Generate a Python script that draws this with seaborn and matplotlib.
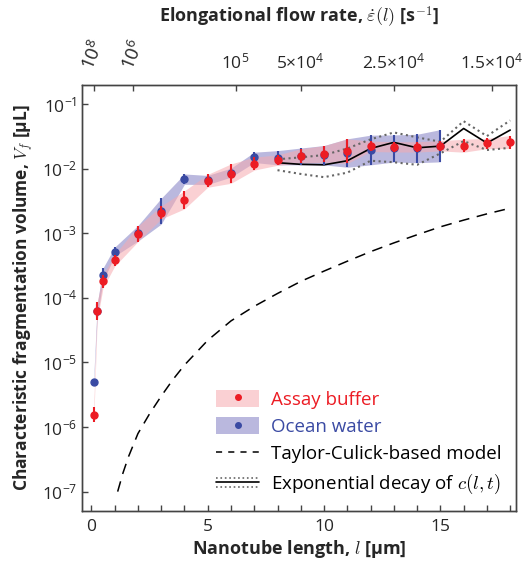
import numpy as np
import matplotlib.pyplot as plt
import seaborn as sns
from matplotlib.legend_handler import HandlerBase
from matplotlib.lines import Line2D
from matplotlib.patches import Rectangle
import matplotlib.ticker as mticker

# ---------- data ----------
# assay buffer (red)
l_assay = [0.1, 0.25, 0.5, 1, 2, 3, 4, 5, 6, 7, 8, 9, 10, 11, 12, 13, 14, 15, 16, 17, 18]
v_assay = [1.55e-6, 6.2e-5, 1.8e-4, 3.8e-4, 9.8e-4, 2.1e-3, 3.3e-3, 6.5e-3, 8.4e-3, 1.2e-2,
           1.36e-2, 1.58e-2, 1.69e-2, 1.87e-2, 2.23e-2, 2.18e-2, 2.18e-2, 2.27e-2, 2.27e-2,
           2.46e-2, 2.59e-2]
e_assay = [0.12, 0.14, 0.1, 0.09, 0.12, 0.1, 0.14, 0.1, 0.15, 0.1,
           0.08, 0.11, 0.13, 0.19, 0.08, 0.08, 0.08, 0.08, 0.1, 0.08, 0.1]  # half-width, decades

# ocean water (blue)
l_ocean = [0.1, 0.25, 0.5, 1, 2, 3, 4, 5, 6, 7, 8, 9, 10, 11, 12, 13, 14, 15]
v_ocean = [5.0e-6, 6.3e-5, 2.3e-4, 5.2e-4, 1.0e-3, 2.2e-3, 6.9e-3, 6.7e-3, 8.7e-3, 1.5e-2,
           1.48e-2, 1.55e-2, 1.62e-2, 1.75e-2, 1.95e-2, 2.06e-2, 2.06e-2, 2.27e-2]
e_ocean = [0.05, 0.1, 0.1, 0.07, 0.12, 0.2, 0.08, 0.07, 0.07, 0.08,
           0.11, 0.13, 0.15, 0.22, 0.23, 0.21, 0.22, 0.25]

# Taylor-Culick-based model (dashed)
l_model = [1.13, 1.36, 1.6, 2.0, 2.5, 3.0, 3.5, 4.0, 5, 6, 7, 8, 9, 10, 11, 12,
           13, 14, 15, 16, 17, 18]
v_model = [1e-7, 1.95e-7, 3.5e-7, 7.9e-7, 1.6e-6, 3.0e-6, 5.4e-6, 9.1e-6, 2.2e-5,
           4.4e-5, 7.4e-5, 1.17e-4, 1.8e-4, 2.6e-4, 3.7e-4, 5.2e-4, 7.1e-4, 9.5e-4,
           1.26e-3, 1.6e-3, 2.0e-3, 2.45e-3]

# exponential decay of c(l,t): fit and its bounds
l_decay = [8, 9, 10, 11, 12, 13, 14, 15, 16, 17, 18]
v_decay = [1.24e-2, 1.17e-2, 1.15e-2, 1.33e-2, 2.06e-2, 2.56e-2, 2.11e-2, 2.24e-2,
           4.2e-2, 2.5e-2, 3.97e-2]
v_decay_hi = [1.4e-2, 1.5e-2, 1.63e-2, 2.06e-2, 2.85e-2, 3.65e-2, 3.06e-2, 2.62e-2,
              5.45e-2, 3.2e-2, 5.6e-2]
v_decay_lo = [9.5e-3, 8.3e-3, 7.4e-3, 8.7e-3, 1.33e-2, 1.26e-2, 1.15e-2, 1.73e-2,
              2.68e-2, 1.95e-2, 2.11e-2]

# top axis: elongational flow rate
rate_pos = [0.1, 1.8, 6.2, 9.0, 13.0, 17.2]
rate_labels = ['$10^8$', '$10^6$', '$10^5$', r'$5{\times}10^4$', r'$2.5{\times}10^4$',
               r'$1.5{\times}10^4$']

y_ticks = [1e-7, 1e-6, 1e-5, 1e-4, 1e-3, 1e-2, 1e-1]

RED = '#ec1c24'
RED_BAND = '#f6aab0'
BLUE = '#3a4aa3'
BLUE_BAND = '#8c89c8'

sns.set_style("ticks")
plt.rcParams['font.family'] = ['Open Sans', 'DejaVu Sans']
plt.rcParams['mathtext.fontset'] = 'custom'
plt.rcParams['mathtext.rm'] = 'Open Sans'
plt.rcParams['mathtext.it'] = 'Open Sans:italic'
plt.rcParams['mathtext.bf'] = 'Open Sans:bold'
plt.rcParams['axes.edgecolor'] = '#444444'
plt.rcParams['axes.linewidth'] = 1.0


class DecayHandler(HandlerBase):
    # solid line with dotted bounds above and below
    def create_artists(self, legend, orig_handle, xdescent, ydescent, width, height,
                       fontsize, trans):
        y0 = height / 2 - ydescent
        arts = []
        for dy, ls, c in [(0, '-', 'black'), (3.5, ':', '#666666'), (-3.5, ':', '#666666')]:
            ln = Line2D([-xdescent, width - xdescent], [y0 + dy, y0 + dy], ls=ls, color=c,
                        lw=1.2, transform=trans)
            arts.append(ln)
        return arts


fig = plt.figure(figsize=(5.26, 5.63), dpi=100)
ax = fig.add_axes([0.156, 0.0924, 0.825, 0.757])

a = np.array(v_assay)
o = np.array(v_ocean)
ea = np.array(e_assay)
eo = np.array(e_ocean)

# shaded bands
ax.fill_between(l_ocean, o / 10**eo, o * 10**eo, color=BLUE_BAND, alpha=0.6, lw=0)
ax.fill_between(l_assay, a / 10**ea, a * 10**ea, color=RED_BAND, alpha=0.55, lw=0)

# model lines
sns.lineplot(x=l_model, y=v_model, ax=ax, color='black', lw=1.1, dashes=False)
ax.lines[-1].set_dashes([7, 5])
sns.lineplot(x=l_decay, y=v_decay_hi, ax=ax, color='#666666', lw=1.5, ls=':')
sns.lineplot(x=l_decay, y=v_decay_lo, ax=ax, color='#666666', lw=1.5, ls=':')
sns.lineplot(x=l_decay, y=v_decay, ax=ax, color='black', lw=1.2)

# points with error bars
eb_o = ax.errorbar(l_ocean, o, yerr=[o - o / 10**eo, o * 10**eo - o], fmt='o', ms=5,
                   color=BLUE, ecolor=BLUE, elinewidth=1.5, capsize=0, zorder=4)
eb_a = ax.errorbar(l_assay, a, yerr=[a - a / 10**ea, a * 10**ea - a], fmt='o', ms=5,
                   color=RED, ecolor=RED, elinewidth=1.5, capsize=0, zorder=5)

ax.set_yscale('log')
ax.set_xlim(-0.4, 18.25)
ax.set_ylim(10**-7.3, 10**-0.7)
ax.yaxis.set_major_locator(mticker.FixedLocator(y_ticks))
ax.yaxis.set_major_formatter(mticker.LogFormatterSciNotation())
ax.yaxis.set_minor_locator(mticker.NullLocator())
ax.xaxis.set_major_locator(mticker.MultipleLocator(5))
ax.xaxis.set_minor_locator(mticker.MultipleLocator(1))
ax.tick_params(axis='both', which='both', direction='in', labelsize=12.5, length=4,
               width=1, color='#444444', top=False, right=False)
ax.tick_params(axis='x', which='minor', length=4)
ax.tick_params(axis='x', pad=6)

ax.set_xlabel(r'Nanotube length, $l$ [µm]', fontsize=13, fontweight='bold', labelpad=2)
ax.xaxis.label.set_math_fontfamily('cm')
ax.set_ylabel(r'Characteristic fragmentation volume, $V_f$ [µL]', fontsize=12.5,
              fontweight='bold', labelpad=4)
ax.yaxis.label.set_math_fontfamily('cm')

# top axis
ax2 = ax.twiny()
ax2.set_xlim(ax.get_xlim())
ax2.set_xticks(rate_pos)
ax2.set_xticklabels(rate_labels)
ax2.tick_params(axis='x', direction='in', length=4, width=1, color='#444444',
                labelsize=12.5, pad=9)
for i, t in enumerate(ax2.get_xticklabels()):
    if i < 2:
        t.set_rotation(68)
        t.set_fontsize(13.5)
        t.set_ha('center')
        t.set_va('bottom')
ax2.set_xlabel(r'Elongational flow rate, $\dot{\varepsilon}(l)$ [s$^{\mathbf{-1}}$]',
               fontsize=13, fontweight='bold', labelpad=10)
ax2.xaxis.label.set_math_fontfamily('cm')

# legend
patch_a = Rectangle((0, 0), 1, 1, color=RED_BAND, alpha=0.55, lw=0)
patch_o = Rectangle((0, 0), 1, 1, color=BLUE_BAND, alpha=0.6, lw=0)
pt_a = Line2D([], [], marker='o', ms=4, color=RED, ls='')
pt_o = Line2D([], [], marker='o', ms=4, color=BLUE, ls='')
dash = Line2D([], [], color='black', lw=1.1, dashes=[4, 4])
decay = Line2D([], [], color='black')
leg = ax.legend([(patch_a, pt_a), (patch_o, pt_o), dash, decay],
                ['Assay buffer', 'Ocean water', 'Taylor-Culick-based model',
                 r'Exponential decay of $c(l,t)$'],
                handler_map={decay: DecayHandler()}, loc='lower right',
                frameon=False, fontsize=13.5, handlelength=2.3, handleheight=1.0,
                labelspacing=0.45, handletextpad=0.6, borderaxespad=0.4,
                labelcolor=[RED, BLUE, 'black', 'black'])
leg.get_texts()[3].set_math_fontfamily('cm')

fig.savefig('out.png', dpi=100)
